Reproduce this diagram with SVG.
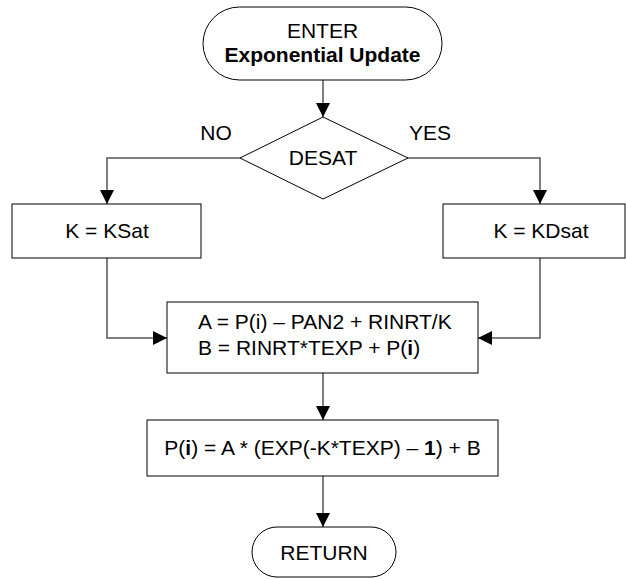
<svg xmlns="http://www.w3.org/2000/svg" width="626" height="579" viewBox="0 0 626 579">
<style>
.s{fill:#fff;stroke:#000;stroke-width:1}
.c{fill:none;stroke:#555;stroke-width:1.5}
.t{font-family:"Liberation Sans",Arial,sans-serif;font-size:21px;fill:#000}
.m{text-anchor:middle}
.b{font-weight:bold}
</style>
<defs>
<marker id="ah" markerWidth="15" markerHeight="14" refX="14" refY="7" orient="auto" markerUnits="userSpaceOnUse">
<path d="M0,0 L14,7 L0,14 Z" fill="#000"/>
</marker>
</defs>
<rect width="626" height="579" fill="#fff"/>
<g id="connectors">
<path class="c" d="M323,80 V117" marker-end="url(#ah)"/>
<path class="c" d="M240,158 H107 V204" marker-end="url(#ah)"/>
<path class="c" d="M408,158 H540 V204" marker-end="url(#ah)"/>
<path class="c" d="M107,258 V338 H167" marker-end="url(#ah)"/>
<path class="c" d="M540,258 V338 H478" marker-end="url(#ah)"/>
<path class="c" d="M323,373 V420" marker-end="url(#ah)"/>
<path class="c" d="M323,476 V527" marker-end="url(#ah)"/>
</g>
<g id="enter">
<rect class="s" x="203" y="7" width="239" height="73" rx="36.5"/>
<text class="t m" x="322.5" y="38">ENTER</text>
<text class="t m b" x="322.5" y="62">Exponential Update</text>
</g>
<g id="desat">
<polygon class="s" points="240,158 323,117 408,158 323,199"/>
<text class="t m" x="323" y="165">DESAT</text>
</g>
<g id="labels">
<text class="t m" x="216" y="140">NO</text>
<text class="t m" x="430" y="140">YES</text>
</g>
<g id="ksat">
<rect class="s" x="12" y="204" width="189" height="54"/>
<text class="t m" x="107" y="238">K = KSat</text>
</g>
<g id="kdsat">
<rect class="s" x="443" y="204" width="182" height="54"/>
<text class="t m" x="541" y="238">K = KDsat</text>
</g>
<g id="ab">
<rect class="s" x="167" y="302" width="311" height="71"/>
<text class="t" x="198" y="329">A = P(i) – PAN2 + RINRT/K</text>
<text class="t" x="198" y="355">B = RINRT*TEXP + P(<tspan class="b">i</tspan>)</text>
</g>
<g id="pi">
<rect class="s" x="147" y="420" width="351" height="56"/>
<text class="t m" x="322.5" y="455">P(<tspan class="b">i</tspan>) = A * (EXP(-K*TEXP) – <tspan class="b">1</tspan>) + B</text>
</g>
<g id="return">
<rect class="s" x="252" y="527" width="144" height="50" rx="25"/>
<text class="t m" x="324" y="560">RETURN</text>
</g>
</svg>
